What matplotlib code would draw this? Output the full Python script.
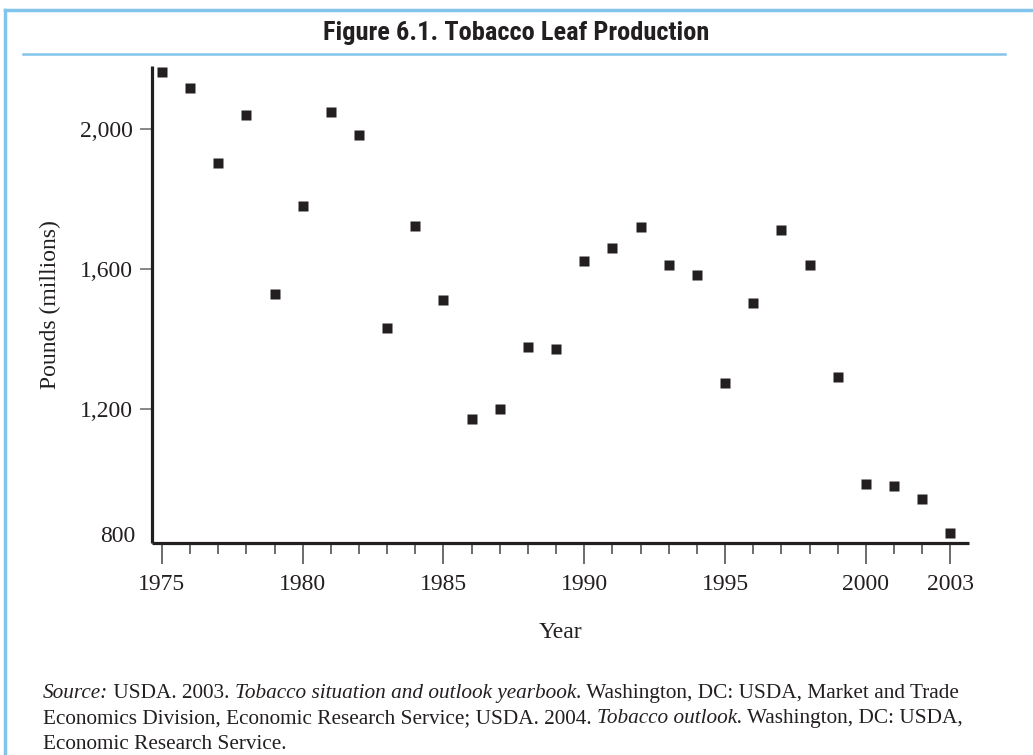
import matplotlib
matplotlib.use("Agg")
import matplotlib.pyplot as plt
from matplotlib.lines import Line2D

# data (millions of pounds)
years = list(range(1975, 2004))
pounds = [2162, 2116, 1902, 2039, 1528, 1779, 2048, 1982, 1431, 1723,
          1511, 1171, 1199, 1377, 1371, 1622, 1659, 1719, 1611, 1582,
          1273, 1502, 1712, 1611, 1291, 985, 980, 942, 847]

major_years = [1975, 1980, 1985, 1990, 1995, 2000, 2003]
y_ticks = [1200, 1600, 2000]
y_labels = ["1,200", "1,600", "2,000"]

title = "Figure 6.1. Tobacco Leaf Production"
source_lines = [
    [("Source:", "italic"), (" USDA. 2003. ", "normal"),
     ("Tobacco situation and outlook yearbook", "italic"),
     (". Washington, DC: USDA, Market and Trade", "normal")],
    [("Economics Division, Economic Research Service; USDA. 2004. ", "normal"),
     ("Tobacco outlook.", "italic"), (" Washington, DC: USDA,", "normal")],
    [("Economic Research Service.", "normal")],
]

ink = "#231f20"
blue = "#82c4ec"
serif = ["Liberation Serif", "DejaVu Serif"]

W, H = 1033, 755
fig = plt.figure(figsize=(W / 100, H / 100), dpi=100)

# frame: top rule, left rule, title underline
fig.add_artist(Line2D([5 / W, 1], [1 - 10 / H, 1 - 10 / H], color=blue, lw=2.5))
fig.add_artist(Line2D([5 / W, 5 / W], [0, 1 - 10 / H], color=blue, lw=2.5))
fig.add_artist(Line2D([23 / W, 1005 / W], [1 - 54 / H, 1 - 54 / H], color=blue, lw=1.8))

fig.text(0.5, 1 - 33 / H, title, ha="center", va="center", fontsize=19,
         fontweight="bold", color=ink,
         family=["Liberation Sans Narrow", "Roboto Condensed", "Liberation Sans"])

ax = fig.add_axes([152 / W, 1 - 543 / H, (969 - 152) / W, (543 - 66) / H])
ax.plot(years, pounds, ls="none", marker="s", ms=6.6, mec="none", color=ink)

ax.set_xlim(1974.65, 2003.66)
ax.set_ylim(817, 2180)

for s in ["top", "right"]:
    ax.spines[s].set_visible(False)
for s in ["left", "bottom"]:
    ax.spines[s].set_linewidth(2.3)
    ax.spines[s].set_color(ink)
    ax.spines[s].set_capstyle("butt")

ax.set_xticks(major_years)
ax.set_xticklabels([str(y) for y in major_years])
ax.set_xticks([y for y in years if y not in major_years], minor=True)
ax.tick_params(axis="x", which="major", length=15, width=1.1, color="#444444",
               pad=7, labelsize=17)
ax.tick_params(axis="x", which="minor", length=8, width=1.1, color="#444444")

ax.set_yticks(y_ticks)
ax.set_yticklabels(y_labels)
ax.tick_params(axis="y", which="major", length=9, width=1.1, color="#666666",
               pad=5, labelsize=17)
for lab in ax.get_xticklabels() + ax.get_yticklabels():
    lab.set_family(serif)
    lab.set_color(ink)

# the bottom label sits on the axis without a tick
ax.annotate("800", xy=(0, 0), xycoords="axes fraction", xytext=(-17, 6),
            textcoords="offset pixels", ha="right", va="center",
            fontsize=17, family=serif, color=ink)

ax.set_ylabel("Pounds (millions)", fontsize=17, family=serif, color=ink,
              labelpad=13)
ax.set_xlabel("Year", fontsize=17, family=serif, color=ink, labelpad=20)

# source note with mixed italic runs
fig.canvas.draw()
renderer = fig.canvas.get_renderer()
baselines = [698, 723, 749]
for line, yb in zip(source_lines, baselines):
    x = 43
    for txt, style in line:
        t = fig.text(x / W, 1 - yb / H, txt, fontsize=15.3, family=serif,
                     style=style, color=ink, ha="left", va="baseline")
        x = t.get_window_extent(renderer).x1

fig.savefig("out.png", dpi=100)
